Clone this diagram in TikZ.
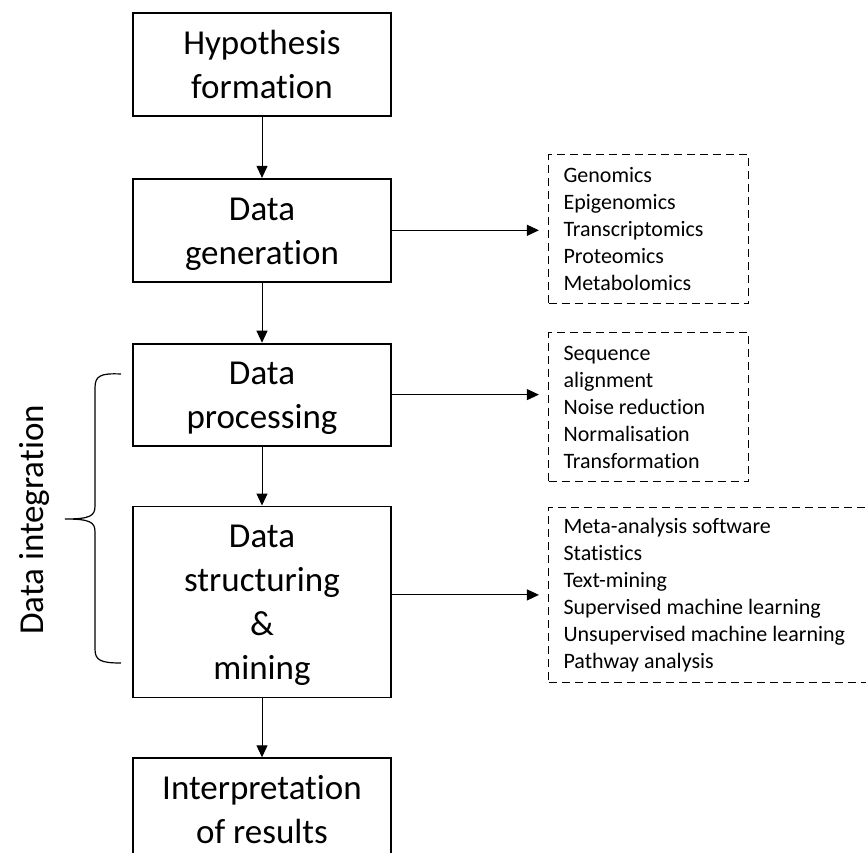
\documentclass[tikz,border=0pt]{standalone}
\usepackage{fontspec}
\setmainfont{Carlito}[Ligatures=NoCommon]
\usepackage{tikz}
\usetikzlibrary{positioning, arrows.meta}
\newcommand{\boxstrut}{\rule[-10pt]{0pt}{44pt}}
\tikzstyle{box} = [rectangle, draw = black, line width = 1.8pt, minimum width = 258pt, minimum height = 103pt, inner sep = 0pt, text width = 258pt, align = flush center, font = \fontsize{35}{44}\selectfont, execute at begin node = \boxstrut, execute at end node = \boxstrut]
\tikzstyle{listbox} = [rectangle, draw = black, dash pattern = on 8pt off 5pt, line width = 1.3pt, minimum width = 200pt, minimum height = 149pt, inner xsep = 15pt, inner ysep = 0pt, text width = 170pt, align = flush left, font = \fontsize{22}{27}\selectfont]
\tikzstyle{arrow} = [-{Triangle[length=12pt, width=11pt]}, line width = 1pt]

\begin{document}
\begin{tikzpicture}[x = 1pt, y = -1pt]
			\useasboundingbox (0,0) rectangle (866,852);
			\clip (0,0) rectangle (866,852);

			%--Workflow Steps--%
			\node(hyp)[box] at (262,64.5) {Hypothesis\\formation};
			\node(gen)[box, below=61pt of hyp]{Data\\generation};
			\node(proc)[box, below=60pt of gen, minimum height=102pt]{Data\\processing};
			\node(struct)[box, below=59pt of proc, minimum height=191pt]{Data\\structuring\\\&\\mining};
			\node(interp)[box, below=59pt of struct]{Interpretation\\of results};

			%--Method Lists--%
			\node(list1)[listbox, right=156pt of gen, yshift=1pt]{Genomics\\Epigenomics\\Transcriptomics\\Proteomics\\Metabolomics};
			\node(list2)[listbox, right=156pt of proc, yshift=-12.5pt]{Sequence\\alignment\\Noise reduction\\Normalisation\\Transformation};
			\node(list3)[listbox, right=156pt of struct, yshift=7pt, minimum width=350pt, text width=320pt, minimum height=175pt]{Meta-analysis software\\Statistics\\Text-mining\\Supervised machine learning\\Unsupervised machine learning\\Pathway analysis};

			%--Flow--%
			\draw[arrow] (hyp) -- (gen);
			\draw[arrow] (gen) -- (proc);
			\draw[arrow] (proc) -- (struct);
			\draw[arrow] (struct) -- (interp);
			\draw[arrow, shorten >=9pt] (gen) -- (gen -| list1.west);
			\draw[arrow, shorten >=9pt] (proc) -- (proc -| list2.west);
			\draw[arrow, shorten >=9pt] (struct.east |- list3.west) -- (list3.west);

			%--Data Integration Brace--%
			\draw[line width=1.2pt] (121,374) .. controls (100,373) and (95,376) .. (95,388)
				-- (95,506) .. controls (95,516) and (90,519) .. (65,519)
				.. controls (90,519) and (95,522) .. (95,532)
				-- (95,649) .. controls (95,660) and (100,663) .. (121,663);
			\node(integ)[rotate=90, font=\fontsize{35}{44}\selectfont] at (34,520) {Data integration};
		\end{tikzpicture}
\end{document}
